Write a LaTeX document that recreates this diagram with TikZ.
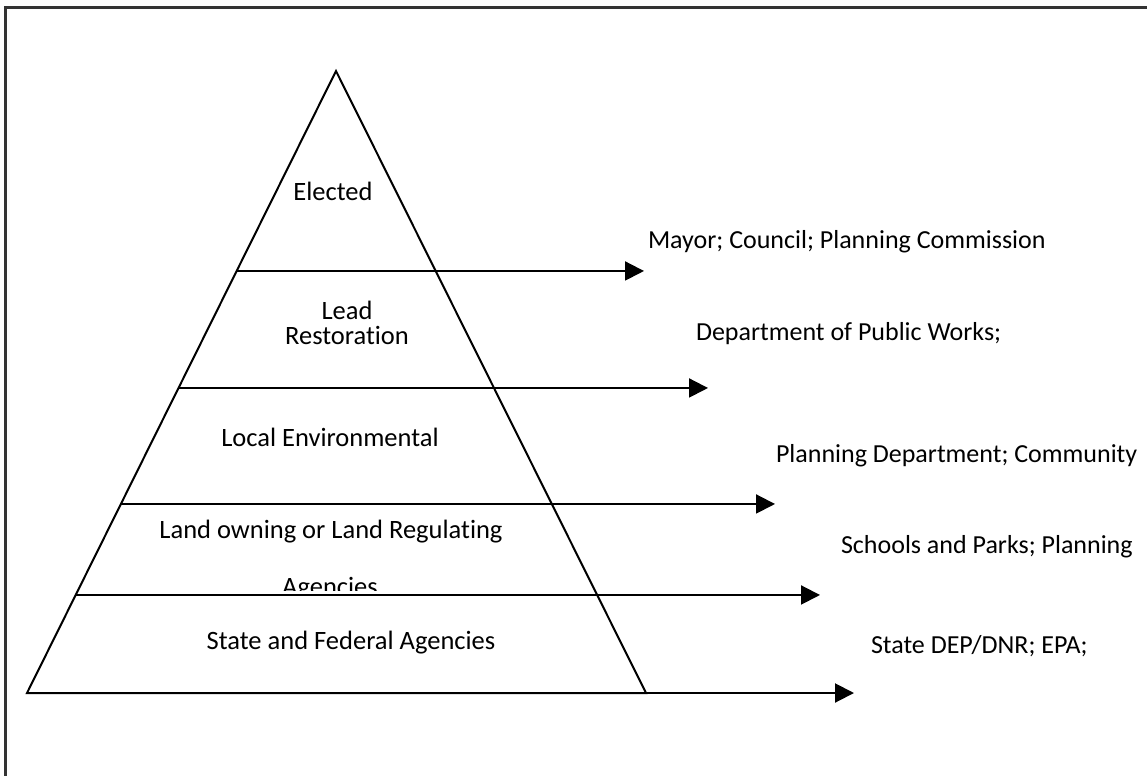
\documentclass[tikz,border=0pt]{standalone}
\usepackage{fontspec}
\setmainfont{Carlito}[Ligatures=NoCommon]
\usetikzlibrary{arrows.meta,calc}

\tikzset{
  tier/.style={font=\fontsize{26.5}{25}\selectfont, align=center, anchor=base, inner sep=0pt},
  note/.style={font=\fontsize{26}{25}\selectfont, anchor=base west, inner sep=0pt},
  level/.style={line width=2pt, -{Triangle[length=19pt,width=19pt]}},
}

\begin{document}
\begin{tikzpicture}[x=1pt, y=-1pt, line width=2pt]
    \useasboundingbox (0,0) rectangle (1147,776);
    \draw[line width=3pt, black!80] (1147,8) -| (5,776);

    \coordinate (apex) at (336,71);
    \coordinate (bl) at (27,693);
    \coordinate (br) at (646,693);
    \draw (bl) -- (apex) -- (br) -- cycle;

    % tier boundaries on the left side
    \coordinate (s1) at ($(apex)!0.3215!(bl)$);
    \coordinate (s2) at ($(apex)!0.5096!(bl)$);
    \coordinate (s3) at ($(apex)!0.6961!(bl)$);
    \coordinate (s4) at ($(apex)!0.8424!(bl)$);

    % arrow tips
    \coordinate (t1) at (644,0);
    \coordinate (t2) at (708,0);
    \coordinate (t3) at (775,0);
    \coordinate (t4) at (820,0);
    \coordinate (t5) at (854,0);

    \node[tier] (elected) at (333,200) {Elected};
    \node[tier] (lead) at (347,344) {Lead\\Restoration};
    \node[tier] (local) at (330,446) {Local Environmental};
    \node[tier] (land) at (331,538) {Land owning or Land Regulating};
    \begin{scope}
        \clip (0,0) rectangle (1147,590);
        \node[tier] (landb) at (330,595) {Agencies};
    \end{scope}
    \node[tier] (state) at (351,649) {State and Federal Agencies};

    \node[note] (mayor) at (647,248) {Mayor; Council; Planning Commission};
    \node[note] (dpw) at (695,340) {Department of Public Works;};
    \node[note] (planning) at (775,462) {Planning Department; Community};
    \node[note] (schools) at (840,553) {Schools and Parks; Planning};
    \node[note] (dep) at (870,653) {State DEP/DNR; EPA;};

    \draw[level] (s1) -- (s1 -| t1);
    \draw[level] (s2) -- (s2 -| t2);
    \draw[level] (s3) -- (s3 -| t3);
    \draw[level] (s4) -- (s4 -| t4);
    \draw[level] (br) -- (br -| t5);
\end{tikzpicture}
\end{document}
